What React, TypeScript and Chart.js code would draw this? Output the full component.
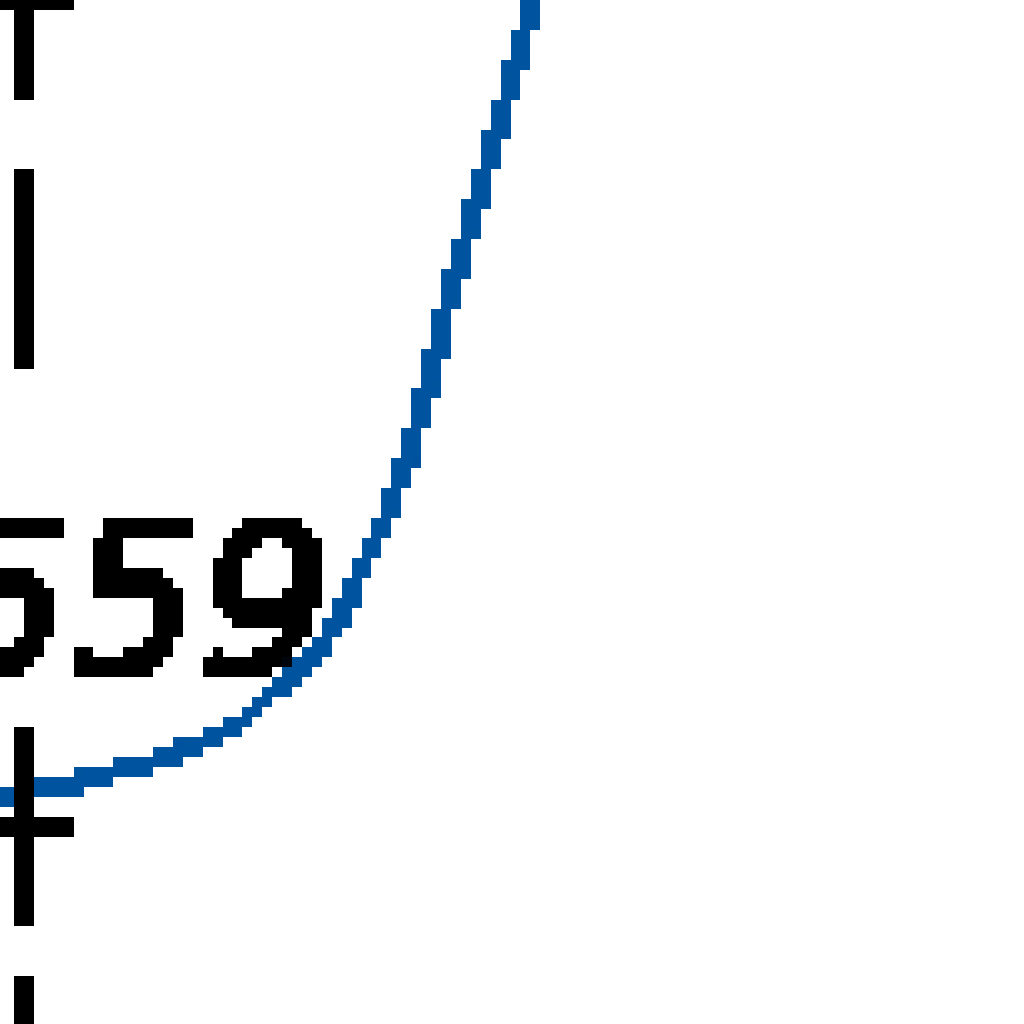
import React, { useEffect, useRef } from "react";
import { Chart, registerables } from "chart.js";

Chart.register(...registerables);

// Blue curve (x, y) values
const curveX = [2, 11.3, 16.5, 20.5, 24.5, 28, 32, 35.5, 37.5, 40, 42, 44, 46, 48, 50, 52, 53, 54, 55, 56, 57, 58, 60, 62, 64, 66, 68];
const curveY = [28.4, 30.1, 31.1, 32.1, 33.1, 34.3, 35.9, 38.0, 40.0, 42.0, 44.0, 46.8, 50.6, 54.8, 59.3, 65.0, 68.6, 72.5, 76.7, 80.7, 84.2, 87.7, 94.8, 101.8, 108.7, 115.5, 122.3];

// Dashed marker line
const markerX = 13;
const upperWhisker = [73, 110];
const lowerWhisker = [37, -15];
const capValues = [110, 27];
const capStyles = ["line", "cross"];

// Value label
const labelText = ["559"];
const labelX = [43.7];
const labelY = [42.5];

const labelPlugin = {
  id: "valueLabel",
  afterDatasetsDraw(chart: any) {
    const { ctx, scales } = chart;
    ctx.save();
    ctx.font = "italic 20.5px 'DejaVu Sans'";
    ctx.fillStyle = "#000000";
    ctx.strokeStyle = "#000000";
    ctx.lineWidth = 0.9;
    ctx.lineJoin = "round";
    ctx.textAlign = "right";
    ctx.textBaseline = "alphabetic";
    labelText.forEach((t, i) => {
      const px = scales.x.getPixelForValue(labelX[i]);
      const py = scales.y.getPixelForValue(labelY[i]);
      ctx.fillText(t, px, py);
      ctx.strokeText(t, px, py);
    });
    ctx.restore();
  },
};

const crispPlugin = {
  id: "crisp",
  afterDraw(chart: any) {
    const ctx = chart.ctx;
    const w = chart.canvas.width;
    const h = chart.canvas.height;
    const img = ctx.getImageData(0, 0, w, h);
    const d = img.data;
    for (let i = 3; i < d.length; i += 4) d[i] = d[i] >= 128 ? 255 : 0;
    ctx.putImageData(img, 0, 0);
  },
};

export default function App() {
  const ref = useRef<HTMLCanvasElement>(null);
  useEffect(() => {
    const chart = new Chart(ref.current as HTMLCanvasElement, {
      type: "line",
      data: {
        datasets: [
          {
            label: "upper",
            data: upperWhisker.map((y) => ({ x: markerX, y })),
            borderColor: "#000000",
            borderWidth: 2,
            borderDash: [20, 7],
            pointRadius: 0,
            clip: false,
            order: 0,
          } as any,
          {
            label: "lower",
            data: lowerWhisker.map((y) => ({ x: markerX, y })),
            borderColor: "#000000",
            borderWidth: 2,
            borderDash: [20, 5],
            pointRadius: 0,
            clip: false,
            order: 0,
          } as any,
          {
            label: "caps",
            data: capValues.map((y) => ({ x: markerX, y })),
            showLine: false,
            pointStyle: capStyles as any,
            pointRadius: 5,
            pointBorderWidth: 2,
            pointBorderColor: "#000000",
            pointBackgroundColor: "#000000",
            clip: false,
            order: 0,
          } as any,
          {
            label: "curve",
            data: curveX.map((x, i) => ({ x, y: curveY[i] })),
            borderColor: "#00549F",
            borderWidth: 2,
            pointRadius: 0,
            cubicInterpolationMode: "monotone",
            clip: false,
            order: 1,
          } as any,
        ],
      },
      options: {
        responsive: false,
        animation: false,
        devicePixelRatio: 1,
        layout: { padding: 0, autoPadding: false },
        events: [],
        plugins: { legend: { display: false }, tooltip: { enabled: false } },
        scales: {
          x: { type: "linear", min: 0, max: 120, display: false },
          y: { type: "linear", min: 0, max: 120, display: false },
        },
      },
      plugins: [labelPlugin, crispPlugin],
    });
    return () => chart.destroy();
  }, []);

  return (
    <div
      style={{
        position: "fixed",
        left: 0,
        top: 0,
        width: 1024,
        height: 1024,
        overflow: "hidden",
        background: "#ffffff",
      }}
    >
      <canvas
        ref={ref}
        width={120}
        height={120}
        style={{
          position: "absolute",
          left: 0,
          top: 0,
          transformOrigin: "0 0",
          transform: "translate(-105.16px, -99.56px) scale(9.93, 9.96)",
          imageRendering: "pixelated",
        }}
      />
    </div>
  );
}
